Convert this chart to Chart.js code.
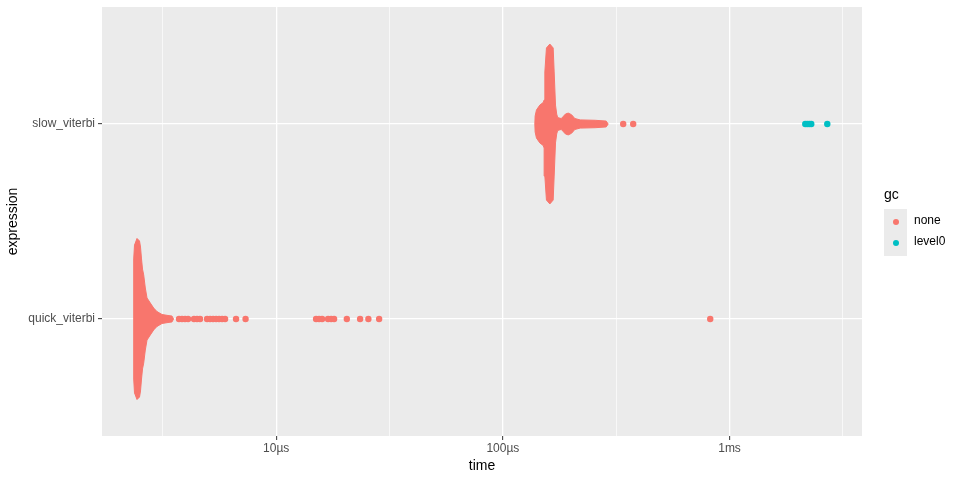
<!DOCTYPE html>
<html>
<head>
<meta charset="utf-8">
<script src="https://cdn.jsdelivr.net/npm/chart.js@4.4.1/dist/chart.umd.min.js"></script>
<style>
    body { margin: 0; background: #fff; }
    #wrap { position: relative; width: 960px; height: 480px; font-family: "Liberation Sans", Arial, sans-serif; }
    .leg { position: absolute; white-space: nowrap; color: #000; }
    .dot { position: absolute; width: 6px; height: 6px; border-radius: 50%; }
</style>
</head>
<body>
<div id="wrap">
    <canvas id="graficoBench" width="960" height="480"></canvas>
    <div class="leg" style="left:884px;top:187px;font-size:14px;line-height:14px;">gc</div>
    <div style="position:absolute;left:884px;top:209px;width:23px;height:47px;background:#EBEBEB;"></div>
    <div class="dot" style="left:893px;top:219px;background:#F8766D;"></div>
    <div class="dot" style="left:893px;top:240px;background:#00BFC4;"></div>
    <div class="leg" style="left:914px;top:214px;font-size:12px;line-height:12px;">none</div>
    <div class="leg" style="left:914px;top:235px;font-size:12px;line-height:12px;">level0</div>
</div>
<script>
// categorias del eje y (valor 1 y 2)
const categorias = ['quick_viterbi', 'slow_viterbi'];

// ticks del eje x (tiempo en µs), los vacios son lineas menores
const xTickValues = [3.162, 10, 31.62, 100, 316.2, 1000, 3162];
const xTickLabels = ['', '10µs', '', '100µs', '', '1ms', ''];

// contorno del enjambre (mitad superior): tiempo en µs y medio ancho en unidades de categoria
const quickSwarmTime = [2.353, 2.353, 2.372, 2.433, 2.496, 2.521, 2.547, 2.573, 2.604, 2.647, 2.693, 2.785, 2.883, 2.981, 3.137, 3.333, 3.472, 3.526];
const quickSwarmHalf = [0, 0.308, 0.379, 0.413, 0.400, 0.369, 0.308, 0.256, 0.226, 0.159, 0.108, 0.082, 0.056, 0.038, 0.023, 0.018, 0.015, 0];

const slowSwarmTime = [138.4, 138.8, 140.7, 145.6, 150.6, 152.1, 153.2, 155.7, 161.2, 166.7, 168.4, 170.7, 172.8, 174.5, 180.9, 184.5, 188.9, 194.2, 200.8, 207.8, 219.3, 255.5, 285.6, 291.5];
const slowSwarmHalf = [0, 0.041, 0.072, 0.097, 0.110, 0.123, 0.267, 0.390, 0.410, 0.390, 0.267, 0.097, 0.051, 0.033, 0.028, 0.038, 0.051, 0.056, 0.048, 0.028, 0.021, 0.019, 0.015, 0];

// puntos sueltos (µs)
const quickNoneTimes = [3.728, 3.843, 3.963, 4.086, 4.342, 4.476, 4.615, 4.956, 5.109, 5.267, 5.431, 5.598, 5.772, 5.951, 6.653, 7.328,
    15.00, 15.47, 15.95, 16.94, 17.47, 18.01, 20.50, 23.46, 25.52, 28.46, 821.9];
const slowNoneTimes = [339.6, 375.8];
const slowLevel0Times = [2158, 2202, 2247, 2294, 2699];

const colorNone = '#F8766D';
const colorLevel0 = '#00BFC4';

function contorno(times, half, cat) {
    const arriba = times.map((t, i) => ({x: t, y: cat + half[i]}));
    const abajo = times.map((t, i) => ({x: t, y: cat - half[i]})).reverse();
    return arriba.concat(abajo);
}

function puntos(times, cat) {
    return times.map(t => ({x: t, y: cat}));
}

function datasetContorno(data) {
    return {
        data: data,
        showLine: true,
        fill: 'shape',
        tension: 0,
        borderColor: colorNone,
        backgroundColor: colorNone,
        borderWidth: 1,
        borderJoinStyle: 'round',
        pointRadius: 0,
        pointHitRadius: 0
    };
}

function datasetPuntos(data, color) {
    return {
        data: data,
        backgroundColor: color,
        borderWidth: 0,
        pointRadius: 3.2
    };
}

const fondoPanel = {
    id: 'fondoPanel',
    beforeDraw(chart) {
        const {ctx, chartArea: a} = chart;
        ctx.save();
        ctx.fillStyle = '#EBEBEB';
        ctx.fillRect(a.left, a.top, a.right - a.left, a.bottom - a.top);
        ctx.restore();
    }
};

const fuente = {family: '"Liberation Sans", Arial, sans-serif'};

new Chart(document.getElementById('graficoBench').getContext('2d'), {
    type: 'scatter',
    data: {
        datasets: [
            datasetContorno(contorno(quickSwarmTime, quickSwarmHalf, 1)),
            datasetContorno(contorno(slowSwarmTime, slowSwarmHalf, 2)),
            datasetPuntos(puntos(quickNoneTimes, 1), colorNone),
            datasetPuntos(puntos(slowNoneTimes, 2), colorNone),
            datasetPuntos(puntos(slowLevel0Times, 2), colorLevel0)
        ]
    },
    options: {
        responsive: false,
        animation: false,
        events: [],
        layout: {padding: {left: 0, top: 7, right: 98, bottom: 0}},
        plugins: {
            legend: {display: false},
            tooltip: {enabled: false}
        },
        scales: {
            x: {
                type: 'logarithmic',
                min: 1.705,
                max: 3840,
                afterBuildTicks: scale => {
                    scale.ticks = xTickValues.map(v => ({value: v}));
                },
                afterFit: scale => {
                    scale.height = 44;
                    scale.paddingLeft = 0;
                    scale.paddingRight = 0;
                },
                border: {display: false},
                grid: {
                    color: '#FFFFFF',
                    lineWidth: ctx => xTickLabels[ctx.index] ? 1.3 : 0.65,
                    tickColor: ctx => xTickLabels[ctx.index] ? '#333333' : 'rgba(0,0,0,0)',
                    tickLength: 4,
                    tickWidth: 1
                },
                ticks: {
                    autoSkip: false,
                    maxRotation: 0,
                    padding: 1,
                    color: '#4D4D4D',
                    font: {...fuente, size: 12},
                    callback: (value, index) => xTickLabels[index]
                },
                title: {
                    display: true,
                    text: 'time',
                    color: '#000000',
                    font: {...fuente, size: 14},
                    padding: {top: 0, bottom: 5}
                }
            },
            y: {
                type: 'linear',
                min: 0.4,
                max: 2.6,
                afterBuildTicks: scale => {
                    scale.ticks = categorias.map((c, i) => ({value: i + 1}));
                },
                afterFit: scale => {
                    scale.width = 102;
                    scale.paddingTop = 0;
                    scale.paddingBottom = 0;
                },
                border: {display: false},
                grid: {
                    color: '#FFFFFF',
                    lineWidth: 1.3,
                    tickColor: '#333333',
                    tickLength: 4,
                    tickWidth: 1
                },
                ticks: {
                    padding: 3,
                    color: '#4D4D4D',
                    font: {...fuente, size: 12},
                    callback: value => categorias[value - 1]
                },
                title: {
                    display: true,
                    text: 'expression',
                    color: '#000000',
                    font: {...fuente, size: 14},
                    padding: {top: 5, bottom: 0}
                }
            }
        }
    },
    plugins: [fondoPanel]
});
</script>
</body>
</html>
